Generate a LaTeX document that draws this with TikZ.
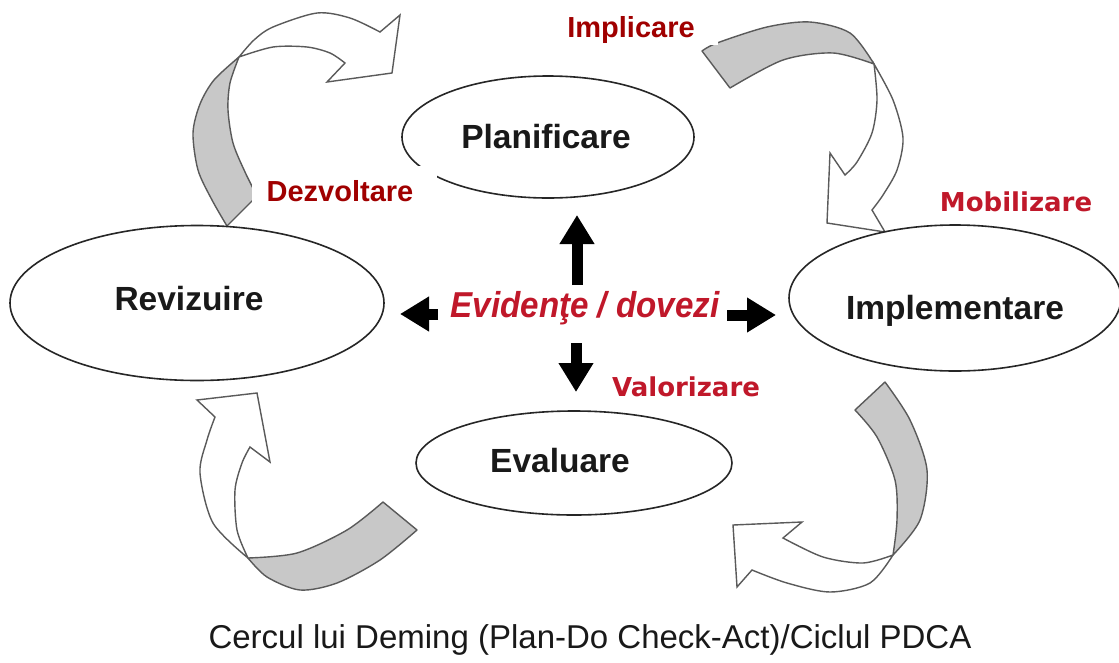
\documentclass[tikz,border=0pt]{standalone}
\usepackage{fontspec}
\setmainfont{Liberation Sans}
\newfontfamily\widefont{DejaVu Sans}
\usetikzlibrary{arrows.meta,shapes.geometric}
\definecolor{deepred}{HTML}{A00000}
\definecolor{crimson}{HTML}{C0182A}
\definecolor{bandgray}{HTML}{C8C8C8}
\definecolor{bandline}{HTML}{5A5A5A}
\begin{document}
\begin{tikzpicture}[x=1pt,y=-1pt,
  phase/.style={ellipse, draw=black!85, line width=1.6pt, fill=white, inner sep=0pt},
  phasetext/.style={font=\bfseries\fontsize{33.5}{33.5}\selectfont, text=black!90},
  band/.style={draw=bandline, line width=1.4pt, fill=bandgray, line join=round},
  bandhead/.style={draw=bandline, line width=1.4pt, fill=white, line join=miter},
  blockarrow/.style={line width=11pt, black, -{Triangle[length=29pt,width=33pt]}},
  keyword/.style={font=\bfseries\fontsize{29}{29}\selectfont, text=deepred},
  keybox/.style={keyword, fill=white, inner sep=0pt},
  softword/.style={font=\widefont\bfseries\fontsize{26}{26}\selectfont, text=crimson},
]
\useasboundingbox (0,0) rectangle (1119,662);
\fill[white] (0,0) rectangle (1119,662);

% ---- twisted ribbon arrows: grey tail, white head ----
% Act -> Plan (top left)
\filldraw[band] plot[smooth] coordinates {(239,57) (214,80) (200,104) (193,133) (198,170) (212,200) (227,226)}
  -- (257,196)
  -- plot[smooth] coordinates {(257,196) (245,172) (233,143) (228,110) (230,83) (239,57)} -- cycle;
\filldraw[bandhead] plot[smooth] coordinates {(239,57) (254,40) (273,27) (317,13) (350,18) (380,32)}
  -- (400,15) -- (392,73) -- (327,82) -- (345,63)
  -- plot[smooth] coordinates {(345,63) (330,53) (307,47) (273,47) (239,57)} -- cycle;

% Plan -> Do (top right)
\filldraw[band] plot[smooth] coordinates {(702,51) (717,43) (767,27) (810,22) (850,33) (874,64)}
  -- plot[smooth] coordinates {(874,64) (833,53) (783,60) (730,88)} -- cycle;
\filldraw[bandhead] plot[smooth] coordinates {(874,64) (893,100) (903,138) (897,170) (883,195) (872,210)}
  -- (885,232) -- (827,223) -- (830,153) -- (845,175)
  -- plot[smooth] coordinates {(845,175) (857,162) (872,133) (877,100) (874,64)} -- cycle;

% Do -> Check (bottom right)
\filldraw[band] plot[smooth] coordinates {(885,382) (910,420) (927,470) (920,520) (893,555)}
  -- plot[smooth] coordinates {(893,555) (897,520) (895,480) (877,437) (855,410)} -- cycle;
\filldraw[bandhead] plot[smooth] coordinates {(893,555) (870,583) (830,592) (787,583) (752,570)}
  -- (737,587) -- (733,525) -- (802,522) -- (783,538)
  -- plot[smooth] coordinates {(783,538) (823,557) (863,563) (893,555)} -- cycle;

% Check -> Act (bottom left)
\filldraw[band] plot[smooth] coordinates {(383,502) (347,530) (297,553) (248,558)}
  -- plot[smooth] coordinates {(248,558) (267,577) (300,590) (337,583) (380,560) (417,530)} -- cycle;
\filldraw[bandhead] plot[smooth] coordinates {(248,558) (213,523) (200,473) (207,440) (215,417)}
  -- (197,400) -- (257,393) -- (270,462) -- (250,447)
  -- plot[smooth] coordinates {(250,447) (242,463) (235,490) (237,530) (248,558)} -- cycle;

% ---- the four phases ----
\node[phase, minimum width=292pt, minimum height=122pt] (plan) at (548,137) {};
\node[phase, minimum width=374pt, minimum height=155pt] (act)  at (197,303) {};
\node[phase, minimum width=332pt, minimum height=146pt] (do)   at (955,298) {};
\node[phase, minimum width=316pt, minimum height=104pt] (check) at (574,463) {};

\node[phasetext] (plantxt)  at (546,137) {Planificare};
\node[phasetext] (acttxt)   at (189,299) {Revizuire};
\node[phasetext] (dotxt)    at (955,311) {Implementare};
\node[phasetext] (checktxt) at (560,461) {Evaluare};

% ---- evidence at the centre, pointing to every phase ----
\node[font=\bfseries\itshape\fontsize{36}{36}\selectfont, text=crimson] (evid) at (585,308)
  {\scalebox{0.92}[1]{Evidenţe / dovezi}};
\coordinate (upA) at (577,285);   \coordinate (upB) at (577,215);
\coordinate (dnA) at (576,343);   \coordinate (dnB) at (576,392);
\coordinate (ltA) at (438,314);   \coordinate (ltB) at (400,314);
\coordinate (rtA) at (727,315);   \coordinate (rtB) at (776,315);
\draw[blockarrow] (upA) -- (upB);
\draw[blockarrow] (dnA) -- (dnB);
\draw[blockarrow] (ltA) -- (ltB);
\draw[blockarrow] (rtA) -- (rtB);

% ---- keywords ----
\node[keybox, minimum width=163pt, minimum height=34pt] (impl) at (636,28) {};
\node[keyword] (impltxt) at (631,30) {Implicare};
\node[keybox, minimum width=185pt, minimum height=47pt] (dezv) at (344,189) {};
\node[keyword] (dezvtxt) at (340,191) {Dezvoltare};
\node[softword] (mobi) at (1016,202) {Mobilizare};
\node[softword] (valo) at (686,387) {Valorizare};

% ---- caption ----
\node[font=\fontsize{33}{33}\selectfont, text=black!90] (caption) at (590,640) {Cercul lui Deming (Plan-Do Check-Act)/Ciclul PDCA};
\end{tikzpicture}
\end{document}
